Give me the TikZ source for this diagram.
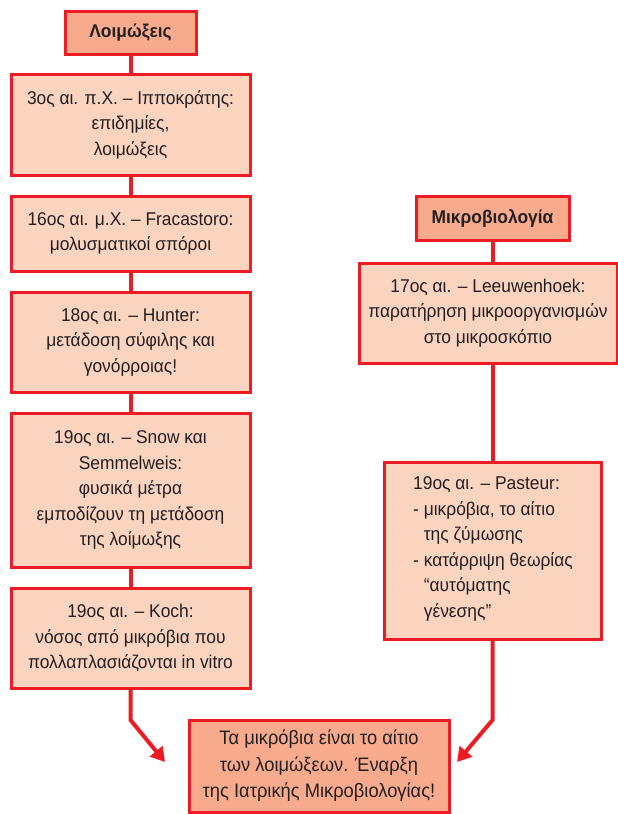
\documentclass[tikz,border=0pt]{standalone}
\usepackage{fontspec}
\setmainfont[FakeStretch=0.94]{Liberation Sans}
\usetikzlibrary{arrows.meta}
\definecolor{bred}{HTML}{ED1C24}
\definecolor{lfill}{HTML}{FBD4C0}
\definecolor{tfill}{HTML}{F8AA8D}
\definecolor{txt}{HTML}{231F20}
\tikzset{
  box/.style={draw=bred, line width=3pt, fill=lfill, inner sep=0pt, align=center, text=txt,
    font=\fontsize{18.5}{25.5}\selectfont},
  titlebox/.style={box, fill=tfill, font=\fontsize{18.5}{25.5}\selectfont\bfseries},
  conn/.style={draw=bred, line width=4pt},
  arr/.style={conn, -{Triangle[length=14pt,width=16pt]}},
}
\begin{document}
\begin{tikzpicture}[x=1pt,y=-1pt]
\useasboundingbox (0,0) rectangle (618,814);
% left column
\node[titlebox, minimum width=131pt, minimum height=43pt] (t1) at (130.5,32.5) {Λοιμώξεις};
\node[box, minimum width=239pt, minimum height=101pt] (b1) at (130.5,124.5) {3ος αι. π.Χ. – Ιπποκράτης:\\επιδημίες,\\λοιμώξεις};
\node[box, minimum width=239pt, minimum height=75pt] (b2) at (130.5,233.5) {16ος αι. μ.Χ. – Fracastoro:\\μολυσματικοί σπόροι};
\node[box, minimum width=239pt, minimum height=100pt] (b3) at (130.5,342) {18ος αι. – Hunter:\\μετάδοση σύφιλης και\\γονόρροιας!};
\node[box, minimum width=239pt, minimum height=154pt] (b4) at (130.5,490) {19ος αι. – Snow και\\Semmelweis:\\φυσικά μέτρα\\εμποδίζουν τη μετάδοση\\της λοίμωξης};
\node[box, minimum width=239pt, minimum height=100pt] (b5) at (130.5,638) {19ος αι. – Koch:\\νόσος από μικρόβια που\\πολλαπλασιάζονται in vitro};
% right column
\node[titlebox, minimum width=153pt, minimum height=44pt] (t2) at (492.5,218) {Μικροβιολογία};
\node[box, minimum width=258pt, minimum height=100pt] (r1) at (488,313) {17ος αι. – Leeuwenhoek:\\παρατήρηση μικροοργανισμών\\στο μικροσκόπιο};
\node[box, minimum width=217pt, minimum height=177pt] (r2) at (492.5,550.5) {};
\node[anchor=west, inner sep=0pt, align=left, text=txt, font=\fontsize{18.5}{25.5}\selectfont] (r2t) at (413,549)
  {19ος αι. – Pasteur:\\- μικρόβια, το αίτιο\\\phantom{- }της ζύμωσης\\- κατάρριψη θεωρίας\\\phantom{- }“αυτόματης\\\phantom{- }γένεσης”};
% bottom
\node[titlebox, font=\fontsize{19.5}{26.5}\selectfont, minimum width=260pt, minimum height=92pt] (fin) at (319,766) {Τα μικρόβια είναι το αίτιο\\των λοιμώξεων. Έναρξη\\της Ιατρικής Μικροβιολογίας!};
% connectors
\draw[conn] (t1) -- (b1);
\draw[conn] (b1) -- (b2);
\draw[conn] (b2) -- (b3);
\draw[conn] (b3) -- (b4);
\draw[conn] (b4) -- (b5);
\draw[conn] (t2.south) -- (t2.south |- r1.north);
\draw[conn] (t2.south |- r1.south) -- (t2.south |- r2.north);
\coordinate (lk) at (130.5,720);
\coordinate (lt) at (165,762);
\coordinate (rk) at (492.5,720);
\coordinate (rt) at (457,762);
\draw[arr] (b5.south) -- (lk) -- (lt);
\draw[arr] (r2.south) -- (rk) -- (rt);
\end{tikzpicture}
\end{document}
